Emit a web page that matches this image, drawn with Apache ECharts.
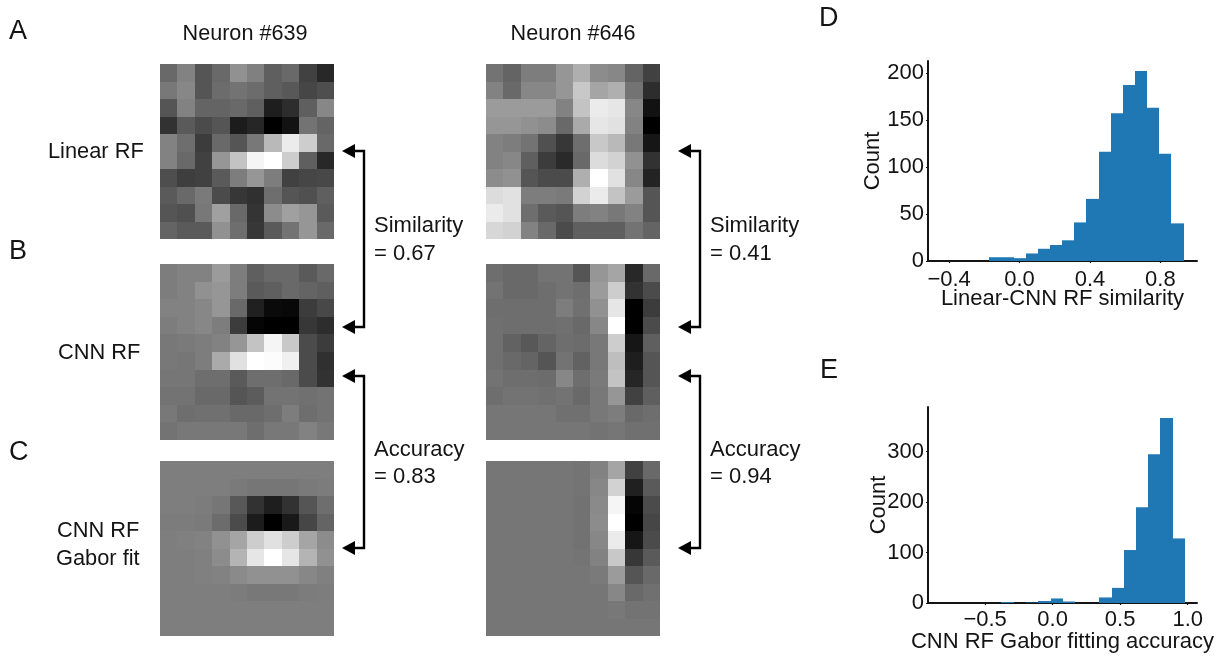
<!DOCTYPE html>
<html><head><meta charset="utf-8">
<style>html,body{margin:0;padding:0;background:#fff}#c{width:1220px;height:657px;filter:blur(0.45px)}</style>
<script src="https://cdn.jsdelivr.net/npm/echarts@6/dist/echarts.min.js"></script>
</head><body><div id="c"></div>
<script>
const linear639 = [
[105,130,85,105,145,128,95,105,65,40],
[120,135,85,108,115,108,95,88,70,78],
[85,130,100,100,105,95,30,45,95,135],
[50,90,75,85,28,38,0,18,115,100],
[130,110,60,105,85,120,185,235,205,105],
[130,105,65,150,195,245,255,205,95,40],
[78,62,65,90,125,150,125,65,70,72],
[90,105,122,75,55,48,110,85,80,95],
[85,80,120,160,105,52,140,160,150,90],
[100,90,90,145,110,55,90,115,150,105]];
const cnn639 = [
[125,130,130,155,125,95,105,105,90,105],
[125,130,145,150,125,90,95,105,100,95],
[130,130,135,150,105,32,10,8,60,72],
[125,130,135,125,60,5,0,0,55,45],
[120,122,125,130,150,195,245,200,75,60],
[120,118,125,170,225,255,252,240,75,48],
[118,118,110,110,90,110,110,105,75,50],
[115,115,105,105,85,92,115,115,112,115],
[120,110,112,112,105,105,110,125,110,115],
[115,120,120,120,120,110,120,120,130,120]];
const gabor639 = [
[126,126,126,126,126,126,126,126,126,126],
[126,126,126,126,122,118,118,118,122,124],
[126,126,124,118,88,50,30,50,85,110],
[124,124,122,108,75,28,0,25,70,100],
[126,128,130,145,165,205,225,205,165,140],
[126,126,128,140,180,230,255,230,180,145],
[126,126,128,130,138,145,145,145,135,128],
[126,126,126,126,124,120,120,120,124,125],
[126,126,126,126,126,126,126,126,126,126],
[126,126,126,126,126,126,126,126,126,126]];
const linear646 = [
[115,100,125,125,150,175,140,135,100,65],
[130,105,135,135,150,200,165,175,115,45],
[155,155,155,155,130,195,235,230,135,18],
[150,150,145,140,105,170,230,225,130,0],
[130,125,115,80,55,110,200,185,120,22],
[130,135,95,60,42,105,220,210,145,50],
[140,145,85,75,75,175,255,225,135,35],
[220,225,125,125,122,210,235,195,155,85],
[235,225,110,90,85,125,130,120,130,85],
[215,210,130,105,75,95,95,95,115,100]];
const cnn646 = [
[110,105,105,115,115,85,150,165,40,105],
[115,105,105,110,115,110,155,205,50,75],
[110,110,110,110,125,112,145,230,0,60],
[112,110,110,110,112,105,135,255,0,75],
[112,98,88,100,110,108,120,205,22,95],
[112,105,100,85,115,98,120,190,30,85],
[115,110,110,108,135,110,122,195,38,85],
[110,115,115,112,115,105,120,150,65,95],
[118,118,118,118,112,112,120,125,105,110],
[118,118,118,118,118,118,115,118,112,112]];
const gabor646 = [
[118,118,118,118,118,116,130,165,65,105],
[118,118,118,118,118,116,135,210,32,90],
[118,118,118,118,118,114,138,245,5,75],
[118,118,118,118,118,114,140,255,0,70],
[118,118,118,118,118,114,135,235,22,75],
[118,118,118,118,118,116,130,200,55,90],
[118,118,118,118,118,118,122,155,85,105],
[118,118,118,118,118,118,118,135,105,112],
[118,118,118,118,118,118,118,120,115,115],
[118,118,118,118,118,118,118,118,118,118]];

const similarityEdges = [-0.172,-0.103,-0.034,0.035,0.104,0.173,0.242,0.311,0.380,0.449,0.518,0.587,0.656,0.725,0.794,0.863,0.932];
const similarityCounts = [4,4,3,8,13,17,22,41,66,116,157,187,202,163,114,40];
const similarityXTicks = [-0.4,0,0.4,0.8];
const similarityYTicks = [0,50,100,150,200];

const accuracyEdges = [-0.379,-0.287,-0.196,-0.106,-0.015,0.075,0.165,0.256,0.346,0.436,0.526,0.617,0.707,0.797,0.888,0.978];
const accuracyCounts = [2,0,1,4,9,3,0,0,11,30,105,190,295,367,128];
const accuracyXTicks = [-0.5,0,0.5,1];
const accuracyYTicks = [0,100,200,300];

const FONT = '"Liberation Sans", Arial, sans-serif';
const INK = '#141414';
const BLUE = '#1f77b4';
const cellIdx = [0,1,2,3,4,5,6,7,8,9];

const maps = [
  {m:linear639,l:160,t:64,h:175},
  {m:cnn639,l:160,t:264,h:176},
  {m:gabor639,l:160,t:461,h:175},
  {m:linear646,l:486,t:64,h:175},
  {m:cnn646,l:486,t:264,h:176},
  {m:gabor646,l:486,t:461,h:175}
];
const grids=[],xAxes=[],yAxes=[],series=[];
maps.forEach((p,i)=>{
  grids.push({left:p.l,top:p.t,width:174,height:p.h,outerBoundsMode:'none'});
  xAxes.push({type:'category',gridIndex:i,data:cellIdx,show:false});
  yAxes.push({type:'category',gridIndex:i,data:cellIdx,inverse:true,show:false});
  const d=[];
  p.m.forEach((row,r)=>row.forEach((v,c)=>d.push([c,r,v])));
  series.push({type:'custom',xAxisIndex:i,yAxisIndex:i,data:d,encode:{x:0,y:1},
    renderItem:(params,api)=>{
      const c=api.coord([api.value(0),api.value(1)]);
      const s=api.size([1,1]);
      const x0=Math.round(c[0]-s[0]/2),x1=Math.round(c[0]+s[0]/2);
      const y0=Math.round(c[1]-s[1]/2),y1=Math.round(c[1]+s[1]/2);
      return {type:'rect',shape:{x:x0,y:y0,width:x1-x0,height:y1-y0},style:{fill:api.visual('color')}};
    }});
});

function addHist(idx,box,edges,counts,xr,yMax,xTicks,yTicks,xName,xGap,yGap,xMargin,fmt){
  grids.push({left:box.l,top:box.t,width:box.w,height:box.h,outerBoundsMode:'none'});
  const axisLine={show:true,onZero:false,lineStyle:{color:INK,width:2}};
  const tick=(vals)=>({show:true,length:2,customValues:vals,lineStyle:{color:INK,width:1.2}});
  xAxes.push({type:'value',gridIndex:idx,min:xr[0],max:xr[1],splitLine:{show:false},axisLine,
    axisTick:tick(xTicks),
    axisLabel:{customValues:xTicks,margin:xMargin,fontSize:22,fontFamily:FONT,color:INK,formatter:fmt},
    name:xName,nameLocation:'middle',nameGap:xGap,nameMoveOverlap:false,nameTextStyle:{fontSize:22,fontFamily:FONT,color:INK}});
  yAxes.push({type:'value',gridIndex:idx,min:0,max:yMax,splitLine:{show:false},axisLine,
    axisTick:tick(yTicks),
    axisLabel:{customValues:yTicks,margin:4,fontSize:22,fontFamily:FONT,color:INK},
    name:'Count',nameLocation:'middle',nameGap:yGap,nameMoveOverlap:false,nameTextStyle:{fontSize:22,fontFamily:FONT,color:INK}});
  const d=counts.map((c,i)=>[edges[i],edges[i+1],c]);
  series.push({type:'custom',xAxisIndex:idx,yAxisIndex:idx,data:d,encode:{x:[0,1],y:2},
    renderItem:(params,api)=>{
      const a=api.coord([api.value(0),api.value(2)]);
      const b=api.coord([api.value(1),0]);
      const x0=Math.round(a[0]),x1=Math.round(b[0]);
      return {type:'rect',shape:{x:x0,y:a[1],width:x1-x0,height:b[1]-a[1]},style:{fill:BLUE}};
    }});
}
const fmtD=v=>(v<0?'\u2212':'')+Math.abs(v).toFixed(1);
addHist(6,{l:928,t:61,w:269,h:200},similarityEdges,similarityCounts,[-0.52,1.008],212.6,similarityXTicks,similarityYTicks,'Linear-CNN RF similarity',27,44,8,fmtD);
addHist(7,{l:928,t:407,w:269,h:196},accuracyEdges,accuracyCounts,[-0.923,1.069],388.6,accuracyXTicks,accuracyYTicks,'CNN RF Gabor fitting accuracy',28,38,6,fmtD);

const txt=(text,x,y,size,align)=>({type:'text',x,y,style:{text,fontSize:size,fontFamily:FONT,fill:INK,textAlign:align||'left',textVerticalAlign:'middle'}});
const graphic=[
  txt('A',9,32,27),txt('B',9,252,27),txt('C',9,453,27),txt('D',819,19,27),txt('E',820,371,27),
  txt('Neuron #639',245,34,21.6,'center'),txt('Neuron #646',573,34,21.6,'center'),
  txt('Linear RF',48,152,21.8),txt('CNN RF',58,353,21.8),txt('CNN RF',57,531,21.8),txt('Gabor fit',56,559,21.8),
  txt('Similarity',374,226,22),txt('= 0.67',374,254,22),
  txt('Accuracy',374,450,22),txt('= 0.83',374,477,22),
  txt('Similarity',710,226,22),txt('= 0.41',710,254,22),
  txt('Accuracy',710,450,22),txt('= 0.94',710,477,22)
];
function bracket(xTip,xv,y1,y2){
  const tipLen=13,half=7;
  graphic.push({type:'polyline',shape:{points:[[xTip+tipLen-1,y1],[xv,y1],[xv,y2],[xTip+tipLen-1,y2]]},style:{stroke:'#000',lineWidth:2.4,fill:null}});
  [y1,y2].forEach(y=>graphic.push({type:'polygon',shape:{points:[[xTip,y],[xTip+tipLen,y-half],[xTip+tipLen,y+half]]},style:{fill:'#000'}}));
}
bracket(342,364,151,327);
bracket(342,364,376,548);
bracket(678,700,151,327);
bracket(678,700,376,548);

const chart=echarts.init(document.getElementById('c'),null,{renderer:'canvas'});
chart.setOption({
  animation:false,backgroundColor:'#fff',
  textStyle:{fontFamily:FONT},
  grid:grids,xAxis:xAxes,yAxis:yAxes,series,graphic,
  visualMap:{show:false,min:0,max:255,seriesIndex:[0,1,2,3,4,5],dimension:2,inRange:{color:['#000000','#ffffff']}}
});
</script></body></html>
